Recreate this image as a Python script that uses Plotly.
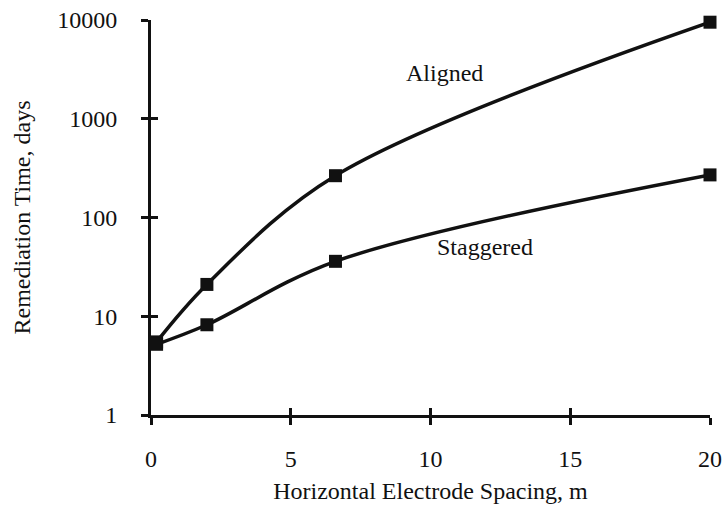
import plotly.graph_objects as go

# Horizontal electrode spacing (m) and remediation time (days)
spacing = [0.2, 2.0, 6.6, 20.0]
aligned = [5.5, 21, 265, 9500]
staggered = [5.2, 8.2, 36, 270]

x_ticks = [0, 5, 10, 15, 20]
y_ticks = [1, 10, 100, 1000, 10000]

FONT = "Liberation Serif"
BLACK = "#111111"

fig = go.Figure()

for series in (aligned, staggered):
    fig.add_trace(go.Scatter(
        x=spacing, y=series,
        mode="lines+markers",
        line=dict(color=BLACK, width=3.5, shape="spline", smoothing=1.0),
        marker=dict(symbol="square", size=13, color=BLACK),
        cliponaxis=False,
        showlegend=False,
        hoverinfo="x+y",
    ))

# Invisible trace carrying the secondary axes that draw the inward tick halves
fig.add_trace(go.Scatter(
    x=[spacing[0]], y=[aligned[0]], xaxis="x2", yaxis="y2",
    mode="markers", marker=dict(opacity=0), showlegend=False, hoverinfo="skip",
))

axis_common = dict(
    showgrid=False, zeroline=False,
    showline=True, linecolor=BLACK, linewidth=3,
    tickcolor=BLACK, tickwidth=3, ticklen=7,
)

fig.update_layout(
    width=723, height=515,
    margin=dict(l=151, r=13, t=20, b=100),
    paper_bgcolor="white", plot_bgcolor="white",
    font=dict(family=FONT, size=24, color=BLACK),
    xaxis=dict(
        range=[0, 20], tickvals=x_ticks, ticktext=[str(v) for v in x_ticks],
        ticks="outside", ticklabelstandoff=13,
        title=dict(text="Horizontal Electrode Spacing, m", standoff=12,
                   font=dict(family=FONT, size=24)),
        automargin=False, **axis_common,
    ),
    yaxis=dict(
        type="log", range=[0, 4], tickvals=y_ticks,
        ticktext=[str(v) for v in y_ticks],
        ticks="outside", ticklabelstandoff=19,
        title=dict(text="Remediation Time, days", standoff=20,
                   font=dict(family=FONT, size=24)),
        automargin=False, **axis_common,
    ),
    xaxis2=dict(
        range=[0, 20], tickvals=x_ticks, overlaying="x", side="bottom",
        ticks="inside", showticklabels=False, anchor="y2",
        **axis_common,
    ),
    yaxis2=dict(
        type="log", range=[0, 4], tickvals=y_ticks, overlaying="y", side="left",
        ticks="inside", showticklabels=False, anchor="x2",
        **axis_common,
    ),
    annotations=[
        dict(x=10.5, y=3.46, xref="x", yref="y", text="Aligned",
             showarrow=False, font=dict(family=FONT, size=24, color=BLACK)),
        dict(x=11.95, y=1.70, xref="x", yref="y", text="Staggered",
             showarrow=False, font=dict(family=FONT, size=24, color=BLACK)),
    ],
)

fig.write_html("out.html")
